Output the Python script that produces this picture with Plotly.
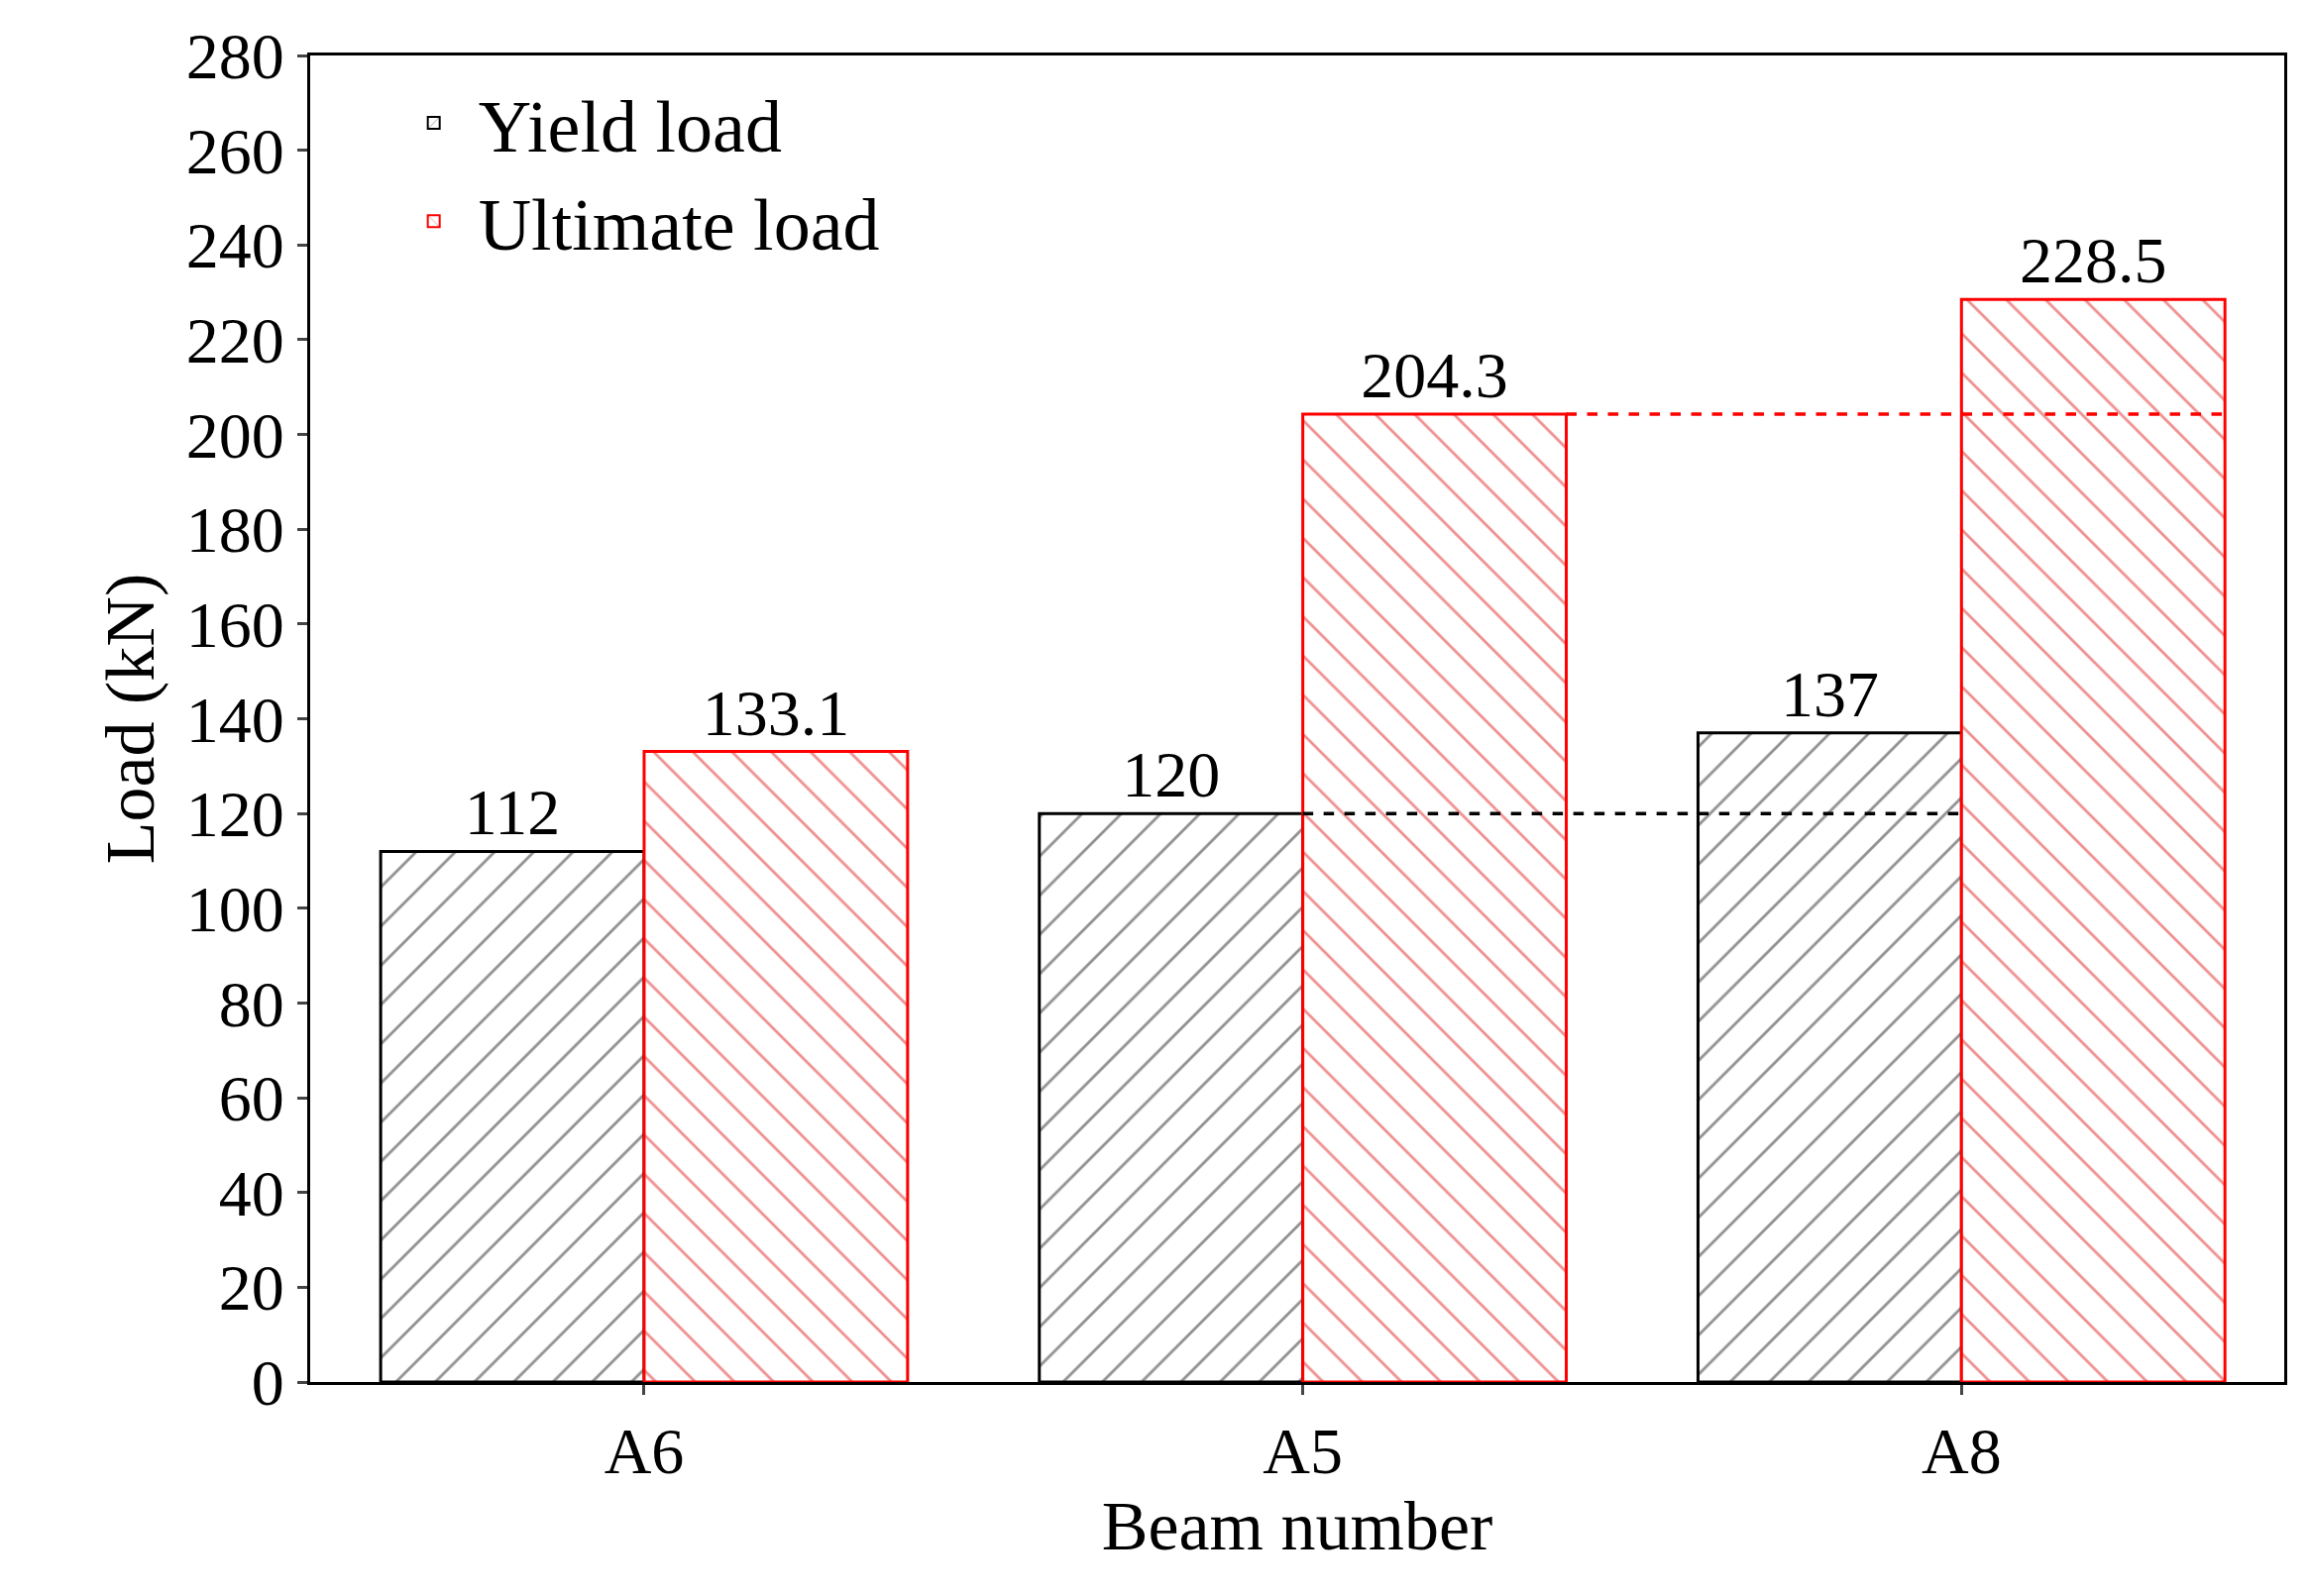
import plotly.graph_objects as go

beams = ["A6", "A5", "A8"]
yield_load = [112, 120, 137]
ultimate_load = [133.1, 204.3, 228.5]
yield_labels = ["112", "120", "137"]
ultimate_labels = ["133.1", "204.3", "228.5"]
yticks = list(range(0, 281, 20))

xpos = list(range(len(beams)))
font = "Liberation Serif, Times New Roman, serif"

fig = go.Figure()
fig.add_bar(x=xpos, y=yield_load, name="Yield load", text=yield_labels,
            textposition="outside", textfont=dict(size=66, color="black"),
            marker=dict(color="white", line=dict(color="black", width=3),
                        pattern=dict(shape="/", fgcolor="#222222", bgcolor="white", size=28, solidity=0.1)),
            cliponaxis=False)
fig.add_bar(x=xpos, y=ultimate_load, name="Ultimate load", text=ultimate_labels,
            textposition="outside", textfont=dict(size=66, color="black"),
            marker=dict(color="white", line=dict(color="red", width=3),
                        pattern=dict(shape="\\", fgcolor="#e02020", bgcolor="white", size=28, solidity=0.1)),
            cliponaxis=False)
fig.add_scatter(x=[xpos[1], xpos[2]], y=[yield_load[1]] * 2, mode="lines",
                line=dict(color="black", dash="dash", width=3.5), showlegend=False)
fig.add_scatter(x=[xpos[1] + 0.4, xpos[2] + 0.4], y=[ultimate_load[1]] * 2, mode="lines",
                line=dict(color="red", dash="dash", width=3.5), showlegend=False)

fig.update_layout(
    width=2331, height=1611, barmode="group", bargap=0.2, bargroupgap=0,
    plot_bgcolor="white", paper_bgcolor="white",
    margin=dict(l=305, r=34, t=42, b=224),
    font=dict(family=font, size=66, color="black"),
    legend=dict(x=0.04, y=0.99, xanchor="left", yanchor="top", font=dict(size=74),
                bgcolor="rgba(0,0,0,0)", itemwidth=80, tracegroupgap=0, itemsizing="constant"),
    xaxis=dict(range=[-0.507, 2.49], tickvals=xpos, ticktext=beams, showline=True, mirror=True,
               linecolor="black", linewidth=3, ticks="outside", ticklen=10, tickwidth=3,
               title=dict(text="Beam number", font=dict(size=70), standoff=15), showgrid=False),
    yaxis=dict(range=[0, 280], tickvals=yticks, showline=True, mirror=True,
               linecolor="black", linewidth=3, ticks="outside", ticklen=10, tickwidth=3,
               title=dict(text="Load (kN)", font=dict(size=70), standoff=10), showgrid=False,
               zeroline=False),
)
fig.write_html("out.html")
